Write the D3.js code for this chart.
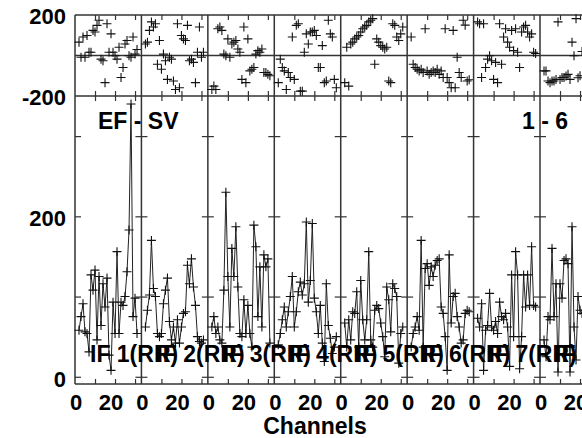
<!DOCTYPE html>
<html><head><meta charset="utf-8">
<script src="https://cdn.jsdelivr.net/npm/d3@7"></script>
<style>html,body{margin:0;padding:0;background:#fff;overflow:hidden}</style>
</head><body><svg id="c" width="582" height="438"></svg>
<script>
const channels = [2,3,4,5,6,7,8,9,10,11,12,13,14,15,16,17,18,19,20,21,22,23,24,25,26,27,28,29,30,31];
const ifLabels = ["IF 1(RR)","IF 2(RR)","IF 3(RR)","IF 4(RR)","IF 5(RR)","IF 6(RR)","IF 7(RR)","IF 8(RR)"];

const amp1 = [58,75,91,56,54,31,127,108,133,46,125,64,116,87,123,27,8,93,54,156,54,93,89,100,131,183,340,75,98,54];
const amp2 = [62,83,102,170,110,100,54,50,54,91,108,123,69,46,62,42,71,42,62,79,81,139,116,147,112,89,50,44,42,46];
const amp3 = [62,75,54,62,46,42,108,230,125,62,160,125,187,112,54,50,96,54,89,54,37,189,162,75,137,62,152,137,147,42];
const amp4 = [40,54,71,87,62,81,100,125,62,81,106,118,102,116,193,93,120,191,98,81,54,89,42,19,116,64,48,29,37,50];
const amp5 = [67,37,71,46,81,79,106,37,120,71,46,71,156,46,37,83,89,85,67,50,25,112,96,56,116,110,100,17,54,62];
const amp6 = [37,54,62,75,58,170,37,135,141,114,137,125,139,145,147,87,79,50,8,152,67,100,104,75,62,42,46,79,83,81];
const amp7 = [73,62,91,8,58,64,104,62,58,69,54,93,75,71,79,62,13,127,50,156,127,10,50,127,87,127,89,162,89,87];
const amp8 = [46,25,75,71,160,75,116,6,116,98,145,147,141,6,187,62,21,100,83,79];

const ph1 = [66,-9,91,-9,99,16,16,124,116,149,174,-18,-26,-134,157,16,107,16,-1,-18,41,-109,-59,57,74,-1,-9,91,7,30];
const ph2 = [57,66,124,166,141,157,-43,74,-68,7,-26,-118,-9,-18,-126,-168,157,-159,99,82,74,149,-26,-18,-34,-134,16,141,-9,16];
const ph3 = [-168,-151,-168,132,141,124,7,-1,82,-9,57,66,74,32,16,-118,141,-134,82,-76,-68,-59,7,24,16,32,-84,-84,-93,-100];
const ph4 = [-134,-18,-59,-76,-168,-84,-109,91,-118,149,157,-176,-176,16,107,57,116,116,124,99,-59,-59,49,-134,-126,174,107,91,-118,-159];
const ph5 = [-134,41,-151,57,66,82,91,99,116,132,141,149,166,174,182,-43,82,66,49,41,32,41,-126,-134,157,149,91,74,107,141];
const ph6 = [91,-43,-59,-68,-76,-68,-84,132,-76,-93,-84,-76,-84,-68,-93,-76,-109,132,-109,-134,-159,124,-159,-9,-84,-109,174,150,-126,-120];
const ph7 = [166,157,-109,157,-59,-18,-1,-26,-118,-34,-134,157,-43,91,132,66,41,124,24,132,16,-59,116,141,149,116,91,107,16,10];
const ph8 = [-76,-76,-126,-134,-126,-126,-118,166,-118,-109,-109,-101,-93,-118,66,-1,182,-110,-100,20];

const ampSeries = [amp1,amp2,amp3,amp4,amp5,amp6,amp7,amp8];
const phSeries = [ph1,ph2,ph3,ph4,ph5,ph6,ph7,ph8];

const phaseTickLabels = [200,-200];
const ampTickValues = [0,100,200,300];
const ampTickLabels = [0,200];
const chanTickValues = [10,20,30];
const chanTickLabels = [0,20];

const svg = d3.select("#c");
const left = 75, segW = 66.43, nSeg = ifLabels.length;
const FONT = "'Liberation Sans', Arial, Helvetica, sans-serif";
const AX = "#333";

const seg = d3.scaleBand().domain(d3.range(nSeg)).range([left, left + segW*nSeg]).padding(0);
const xIn = d3.scaleLinear().domain([0, 33.2]).range([0, segW]);
const yPh = d3.scaleLinear().domain([-200, 200]).range([96, 15]);
const yAmp = d3.scaleLinear().domain([-9, 350]).range([384, 96]);
const rightEdge = left + segW*nSeg;

const crossPath = "M-4.5,0H4.5M0,-4.5V4.5";

// frames
const frame = svg.append("g").attr("fill","none").attr("stroke",AX).attr("stroke-width",1.5);
frame.append("line").attr("x1",left).attr("x2",rightEdge).attr("y1",yPh(200)).attr("y2",yPh(200));
frame.append("line").attr("x1",left).attr("x2",rightEdge).attr("y1",yPh(-200)).attr("y2",yPh(-200));
frame.append("line").attr("x1",left).attr("x2",rightEdge).attr("y1",yPh(0)).attr("y2",yPh(0));
frame.append("line").attr("x1",left).attr("x2",rightEdge).attr("y1",yAmp.range()[0]).attr("y2",yAmp.range()[0]);

function styleAxis(g){
  g.select(".domain").remove();
  g.selectAll(".tick line").attr("stroke",AX).attr("stroke-width",1.2);
  g.selectAll(".tick text").remove();
}

for (let i = 0; i < nSeg; i++) {
  const x0 = seg(i);
  const g = svg.append("g").attr("transform", `translate(${x0},0)`);
  // separator
  g.append("line").attr("x1",0).attr("x2",0).attr("y1",yPh(200)).attr("y2",yAmp.range()[0])
    .attr("stroke",AX).attr("stroke-width",1.5);
  // x ticks
  g.append("g").attr("transform",`translate(0,${yAmp.range()[0]})`)
    .call(d3.axisTop(xIn).tickValues(chanTickValues).tickSizeInner(5).tickSizeOuter(0)).call(styleAxis);
  g.append("g").attr("transform",`translate(0,${yAmp.range()[1]})`)
    .call(d3.axisBottom(xIn).tickValues(chanTickValues).tickSizeInner(5).tickSizeOuter(0)).call(styleAxis);
  g.append("g").attr("transform",`translate(0,${yPh(-200)})`)
    .call(d3.axisTop(xIn).tickValues(chanTickValues).tickSizeInner(5).tickSizeOuter(0)).call(styleAxis);
  g.append("g").attr("transform",`translate(0,${yPh(200)})`)
    .call(d3.axisBottom(xIn).tickValues(chanTickValues).tickSizeInner(5).tickSizeOuter(0)).call(styleAxis);
  // y ticks on amplitude panel
  g.append("g").call(d3.axisRight(yAmp).tickValues(ampTickValues).tickSizeInner(6).tickSizeOuter(0)).call(styleAxis);
  g.append("g").attr("transform",`translate(${segW},0)`)
    .call(d3.axisLeft(yAmp).tickValues(ampTickValues).tickSizeInner(6).tickSizeOuter(0)).call(styleAxis);

  // amplitude data
  const ad = ampSeries[i].map((v,k)=>({c:channels[k], v}));
  const line = d3.line().x(d=>xIn(d.c)).y(d=>yAmp(d.v));
  g.append("path").datum(ad).attr("d",line).attr("fill","none").attr("stroke","#222").attr("stroke-width",1);
  g.selectAll(".ac").data(ad).join("path").attr("class","ac")
    .attr("transform",d=>`translate(${xIn(d.c)},${yAmp(d.v)})`)
    .attr("d",crossPath).attr("stroke","#111").attr("stroke-width",1.1).attr("fill","none");

  // phase data
  const pd = phSeries[i].map((v,k)=>({c:channels[k], v}));
  g.selectAll(".pc").data(pd).join("path").attr("class","pc")
    .attr("transform",d=>`translate(${xIn(d.c)},${yPh(d.v)})`)
    .attr("d",crossPath).attr("stroke","#111").attr("stroke-width",1.1).attr("fill","none");

  // x tick labels
  g.selectAll(".xl").data(chanTickLabels).join("text").attr("class","xl")
    .attr("x",d=> xIn(d) + (d===0 ? 1 : -4)).attr("y",410)
    .attr("text-anchor","middle").attr("font-family",FONT).attr("font-weight","bold").attr("font-size",22)
    .text(d=>d);
}

// IF labels (drawn on top)
svg.selectAll(".ifl").data(ifLabels).join("text").attr("class","ifl")
  .attr("x",(d,i)=>seg(i)+15).attr("y",362)
  .attr("font-family",FONT).attr("font-weight","bold").attr("font-size",23).text(d=>d);

// y tick labels
svg.selectAll(".pl").data(phaseTickLabels).join("text").attr("class","pl")
  .attr("x",66).attr("y",d=>yPh(d)+9).attr("text-anchor","end")
  .attr("font-family",FONT).attr("font-weight","bold").attr("font-size",22).text(d=>d);
svg.selectAll(".al").data(ampTickLabels).join("text").attr("class","al")
  .attr("x",66).attr("y",d=>yAmp(d)+10).attr("text-anchor","end")
  .attr("font-family",FONT).attr("font-weight","bold").attr("font-size",22).text(d=>d);

// annotations
const ann = svg.append("g").attr("font-family",FONT).attr("font-weight","bold").attr("font-size",23);
ann.append("text").attr("x",98).attr("y",129).text("EF - SV");
ann.append("text").attr("x",568).attr("y",129).attr("text-anchor","end").text("1 - 6");
ann.append("text").attr("x",315).attr("y",434).attr("text-anchor","middle").text("Channels");
</script>
</body></html>
